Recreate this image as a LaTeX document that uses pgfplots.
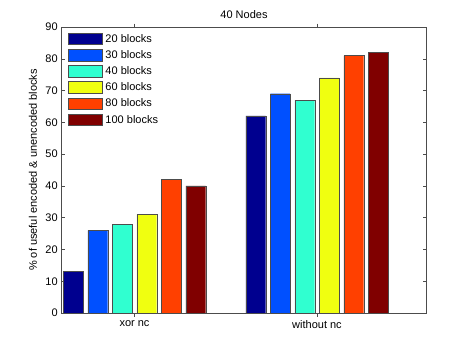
\documentclass[border=0pt]{standalone}
\usepackage{fontspec}
\setmainfont{Liberation Sans}
\usepackage{pgfplots}
\pgfplotsset{compat=1.18}
\definecolor{c1}{RGB}{0,0,143}
\definecolor{c2}{RGB}{0,80,255}
\definecolor{c3}{RGB}{48,255,208}
\definecolor{c4}{RGB}{240,255,16}
\definecolor{c5}{RGB}{255,64,0}
\definecolor{c6}{RGB}{128,0,0}
\begin{document}
\fontsize{11bp}{13bp}\selectfont
\begin{tikzpicture}
\useasboundingbox (0,0) rectangle (471bp,353bp);
\begin{axis}[
  at={(61.5bp,40bp)}, anchor=south west,
  scale only axis, width=365bp, height=286bp,
  xmin=0.6, xmax=2.6, ymin=0, ymax=90,
  xtick={1,2}, xticklabels={xor nc, without nc},
  ytick={0,10,...,90},
  tick align=inside, major tick length=3.5bp,
  tick style={black!70, line width=0.4bp},
  axis line style={black!70, line width=0.6bp},
  ybar=4.6bp, bar width=19.9bp,
  title={40 Nodes},
  title style={yshift=-1bp},
  ylabel={\% of useful encoded \& unencoded blocks},
  ylabel style={yshift=1bp},
  /pgf/number format/assume math mode=true,
  every tick label/.append style={font=\fontsize{11bp}{13bp}\selectfont},
  label style={font=\fontsize{11bp}{13bp}\selectfont},
  title style={font=\fontsize{11bp}{13bp}\selectfont},
  legend style={draw=none, fill=none, at={(0.008,0.99)}, anchor=north west,
    font=\fontsize{11bp}{13bp}\selectfont, row sep=2.6bp,
    /tikz/every even column/.append style={column sep=0pt},
    /tikz/every odd column/.append style={column sep=1.5bp}},
  legend cell align=left,
  legend image code/.code={\draw[#1, draw=black!70, line width=0.4bp] (0bp,-5.8bp) rectangle (34bp,5.8bp);},
  clip=false,
]
\addplot[fill=c1, draw=black!70, line width=0.4bp] coordinates {(1,13) (2,62)};
\addplot[fill=c2, draw=black!70, line width=0.4bp] coordinates {(1,26) (2,69)};
\addplot[fill=c3, draw=black!70, line width=0.4bp] coordinates {(1,28) (2,67)};
\addplot[fill=c4, draw=black!70, line width=0.4bp] coordinates {(1,31) (2,74)};
\addplot[fill=c5, draw=black!70, line width=0.4bp] coordinates {(1,42) (2,81)};
\addplot[fill=c6, draw=black!70, line width=0.4bp] coordinates {(1,40) (2,82)};
\legend{20 blocks, 30 blocks, 40 blocks, 60 blocks, 80 blocks, 100 blocks}
\end{axis}
\end{tikzpicture}
\end{document}
